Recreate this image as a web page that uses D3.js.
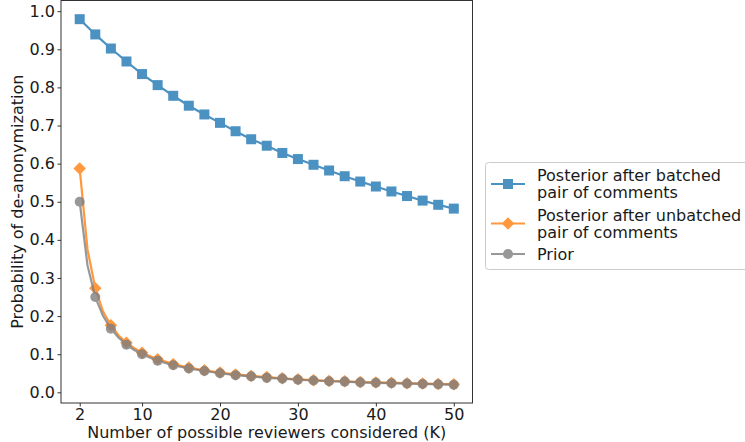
<!DOCTYPE html>
<html><head><meta charset="utf-8">
<script src="https://cdn.jsdelivr.net/npm/d3@7/dist/d3.min.js"></script>
<style>body{margin:0;background:#fff}svg{display:block}text{font-family:"DejaVu Sans",sans-serif;fill:#1a1a1a}</style>
</head><body>
<script>
// ---- data ----
const kBatched = [2,4,6,8,10,12,14,16,18,20,22,24,26,28,30,32,34,36,38,40,42,44,46,48,50];
const batched  = [0.979,0.939,0.902,0.868,0.835,0.806,0.778,0.752,0.729,0.707,0.685,0.664,0.647,0.628,0.612,0.597,0.582,0.567,0.553,0.540,0.527,0.515,0.503,0.492,0.482];
const kDense = [2,3,4,5,6,7,8,9,10,12,14,16,18,20,22,24,26,28,30,32,34,36,38,40,42,44,46,48,50];
const unbatched = [0.587,0.375,0.273,0.212,0.176,0.149,0.130,0.116,0.104,0.087,0.074,0.065,0.058,0.052,0.047,0.043,0.040,0.037,0.034,0.032,0.030,0.029,0.027,0.026,0.025,0.024,0.023,0.022,0.021];
const prior = [0.500,0.333,0.250,0.200,0.167,0.143,0.125,0.111,0.100,0.083,0.071,0.0625,0.056,0.050,0.045,0.042,0.038,0.036,0.033,0.031,0.029,0.028,0.026,0.025,0.024,0.023,0.022,0.021,0.020];
const xTicks = [2,10,20,30,40,50];
const yTicks = [0,0.1,0.2,0.3,0.4,0.5,0.6,0.7,0.8,0.9,1.0];
const seriesNames = [["Posterior after batched","pair of comments"],["Posterior after unbatched","pair of comments"],["Prior"]];
const colors = ["#1f77b4","#ff7f0e","#7f7f7f"];

(function(){
const W=745,H=442;
const svg=d3.select("body").append("svg").attr("width",W).attr("height",H);
const mL=61, mR=472.5, mT=0.5, mB=403;
const x=d3.scaleLinear().domain([-0.4,52.4]).range([mL,mR]);
const y=d3.scaleLinear().domain([-0.028,1.028]).range([mB,mT]);

const gx=svg.append("g").attr("transform",`translate(0,${mB})`)
  .call(d3.axisBottom(x).tickValues(xTicks).tickFormat(d3.format("d")).tickSizeOuter(0).tickSize(3.5).tickPadding(2.5));
const gy=svg.append("g").attr("transform",`translate(${mL},0)`)
  .call(d3.axisLeft(y).tickValues(yTicks).tickFormat(d3.format(".1f")).tickSizeOuter(0).tickSize(3.5).tickPadding(2.5));
[gx,gy].forEach(g=>{g.select(".domain").remove();g.selectAll("text").attr("font-size",16).attr("font-family","DejaVu Sans").attr("fill","#1a1a1a");g.selectAll("line").attr("stroke","#333");});

svg.append("text").attr("x",(mL+mR)/2).attr("y",437.5).attr("text-anchor","middle").attr("font-size",16).text("Number of possible reviewers considered (K)");
svg.append("text").attr("transform",`translate(22.5,${(mT+mB)/2}) rotate(-90)`).attr("text-anchor","middle").attr("font-size",16).text("Probability of de-anonymization");

const plot=svg.append("g");
const line=d3.line().x(d=>x(d[0])).y(d=>y(d[1]));
const sym=[d3.symbolSquare,d3.symbolSquare,d3.symbolCircle];
const symSize=[100,78,80];
const symRot=["", " rotate(45)", ""];
function drawSeries(ks,vals,i){
  const pts=ks.map((k,j)=>[k,vals[j]]);
  const g=plot.append("g").attr("opacity",0.8);
  g.append("path").datum(pts).attr("d",line).attr("fill","none").attr("stroke",colors[i]).attr("stroke-width",2.2);
  g.selectAll("path.m").data(pts.filter(p=>p[0]%2===0)).enter().append("path").attr("class","m")
    .attr("d",d3.symbol().type(sym[i]).size(symSize[i])).attr("fill",colors[i])
    .attr("transform",d=>`translate(${x(d[0])},${y(d[1])})`+symRot[i]);
}
drawSeries(kBatched,batched,0);
drawSeries(kDense,unbatched,1);
drawSeries(kDense,prior,2);

svg.append("rect").attr("x",mL).attr("y",mT).attr("width",mR-mL).attr("height",mB-mT).attr("fill","none").attr("stroke","#333").attr("stroke-width",1);

const lg=svg.append("g");
lg.append("rect").attr("x",485.5).attr("y",162.5).attr("width",280).attr("height",107).attr("rx",3).attr("fill","#fff").attr("stroke","#cccccc").attr("stroke-width",1);
const rows=[[175,191.7],[215,231.7],[254]];
const handleY=[184,223.5,254];
rows.forEach((r,i)=>{
  const g=lg.append("g").attr("opacity",0.8);
  g.append("line").attr("x1",491).attr("x2",525).attr("y1",handleY[i]).attr("y2",handleY[i]).attr("stroke",colors[i]).attr("stroke-width",2.2);
  g.append("path").attr("transform",`translate(508,${handleY[i]})`+symRot[i]).attr("d",d3.symbol().type(sym[i]).size(symSize[i])).attr("fill",colors[i]);
  seriesNames[i].forEach((t,j)=>{
    lg.append("text").attr("x",537).attr("y",r[j]+6).attr("font-size",16).text(t);
  });
});
})();
</script>
</body></html>
